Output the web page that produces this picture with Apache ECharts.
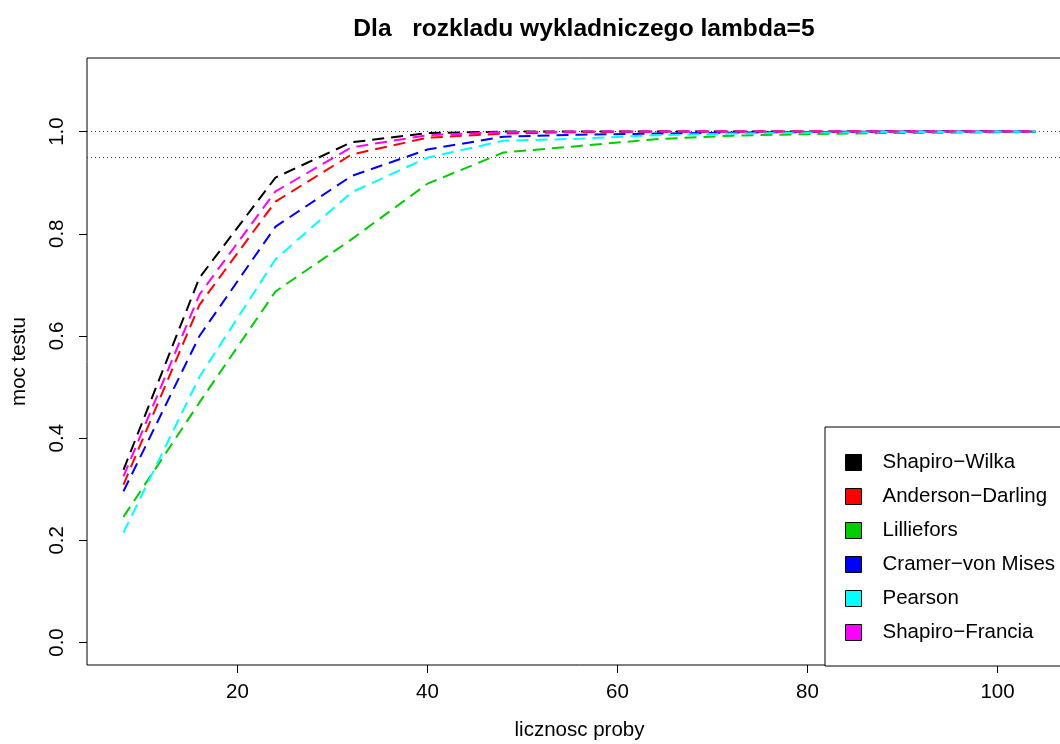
<!DOCTYPE html>
<html>
<head>
<meta charset="utf-8">
<script src="https://cdn.jsdelivr.net/npm/echarts@6.0.0/dist/echarts.min.js"></script>
<style>
  html, body { margin: 0; padding: 0; background: #fff; overflow: hidden; }
  #chart { width: 1090px; height: 744px; }
</style>
</head>
<body>
<div id="chart"></div>
<script>
  // sample sizes and power estimates
  const sampleSizes = [8, 16, 24, 32, 40, 48, 56, 64, 72, 80, 88, 96, 104];
  const shapiroWilk     = [0.338, 0.714, 0.910, 0.979, 0.997, 1.000, 1.000, 1.000, 1.000, 1.000, 1.000, 1.000, 1.000];
  const andersonDarling = [0.309, 0.661, 0.863, 0.955, 0.988, 0.996, 0.999, 1.000, 1.000, 1.000, 1.000, 1.000, 1.000];
  const lilliefors      = [0.246, 0.470, 0.687, 0.789, 0.898, 0.959, 0.972, 0.985, 0.992, 0.995, 0.997, 0.998, 0.999];
  const cramerVonMises  = [0.296, 0.600, 0.814, 0.913, 0.965, 0.990, 0.994, 0.996, 0.998, 0.999, 1.000, 1.000, 1.000];
  const pearson         = [0.215, 0.520, 0.750, 0.881, 0.949, 0.982, 0.986, 0.993, 0.996, 0.998, 0.999, 0.999, 1.000];
  const shapiroFrancia  = [0.325, 0.681, 0.883, 0.969, 0.993, 0.999, 1.000, 1.000, 1.000, 1.000, 1.000, 1.000, 1.000];

  const seriesNames = ['Shapiro\u2212Wilka', 'Anderson\u2212Darling', 'Lilliefors', 'Cramer\u2212von Mises', 'Pearson', 'Shapiro\u2212Francia'];
  const seriesValues = [shapiroWilk, andersonDarling, lilliefors, cramerVonMises, pearson, shapiroFrancia];
  const seriesColors = ['#000000', '#ff0000', '#00cd00', '#0000ff', '#00ffff', '#ff00ff'];

  const xTicks = [20, 40, 60, 80, 100];
  const yTicks = [0, 0.2, 0.4, 0.6, 0.8, 1.0];
  const refLines = [1.0, 0.95];

  const font = 'Liberation Sans, Arial, Helvetica, sans-serif';
  const fs = 20.5;

  var series = seriesNames.map(function (name, i) {
    return {
      name: name,
      type: 'line',
      symbol: 'none',
      color: seriesColors[i],
      data: sampleSizes.map(function (n, j) { return [n, seriesValues[i][j]]; }),
      lineStyle: { color: seriesColors[i], width: 2, type: [12, 7] },
      z: 3 + i,
      animation: false
    };
  });
  series[0].markLine = {
    silent: true,
    symbol: 'none',
    label: { show: false },
    lineStyle: { color: '#444', width: 1, type: [1, 3] },
    data: refLines.map(function (v) { return { yAxis: v }; }),
    animation: false
  };

  var chart = echarts.init(document.getElementById('chart'), null, { renderer: 'canvas' });
  chart.setOption({
    animation: false,
    backgroundColor: '#fff',
    title: {
      text: 'Dla   rozkladu wykladniczego lambda=5',
      left: 579,
      top: 12,
      textAlign: 'center',
      textStyle: { fontFamily: font, fontSize: 24.6, fontWeight: 'bold', color: '#000' }
    },
    grid: {
      left: 87, top: 58, width: 985, height: 607,
      containLabel: false,
      outerBoundsMode: 'none',
      show: true, borderColor: '#000', borderWidth: 1, backgroundColor: 'transparent'
    },
    xAxis: {
      type: 'value',
      min: 4.16, max: 107.84,
      name: 'licznosc proby',
      nameLocation: 'middle',
      nameGap: 55,
      nameTextStyle: { fontFamily: font, fontSize: fs, color: '#000' },
      splitLine: { show: false },
      axisLine: { show: false, onZero: false },
      axisTick: { show: true, length: 8, lineStyle: { color: '#000' }, customValues: xTicks },
      axisLabel: { fontFamily: font, fontSize: fs, color: '#000', margin: 17, customValues: xTicks }
    },
    yAxis: {
      type: 'value',
      min: -0.044, max: 1.144,
      name: 'moc testu',
      nameLocation: 'middle',
      nameGap: 57,
      nameRotate: 90,
      nameTextStyle: { fontFamily: font, fontSize: fs, color: '#000' },
      splitLine: { show: false },
      axisLine: { show: false, onZero: false },
      axisTick: { show: true, length: 8, lineStyle: { color: '#000' }, customValues: yTicks },
      axisLabel: {
        fontFamily: font, fontSize: fs, color: '#000', margin: 19, rotate: 90,
        customValues: yTicks,
        formatter: function (v) { return v.toFixed(1); }
      }
    },
    legend: {
      orient: 'vertical',
      left: 825,
      top: 427,
      icon: 'rect',
      itemWidth: 16,
      itemHeight: 16,
      itemGap: 13,
      padding: [25, 30, 23, 20],
      borderColor: '#000',
      borderWidth: 1,
      backgroundColor: '#fff',
      itemStyle: { borderColor: '#000', borderWidth: 1 },
      textStyle: { fontFamily: font, fontSize: fs, color: '#000', padding: [0, 0, 0, 16] },
      data: seriesNames
    },
    series: series
  });
</script>
</body>
</html>
